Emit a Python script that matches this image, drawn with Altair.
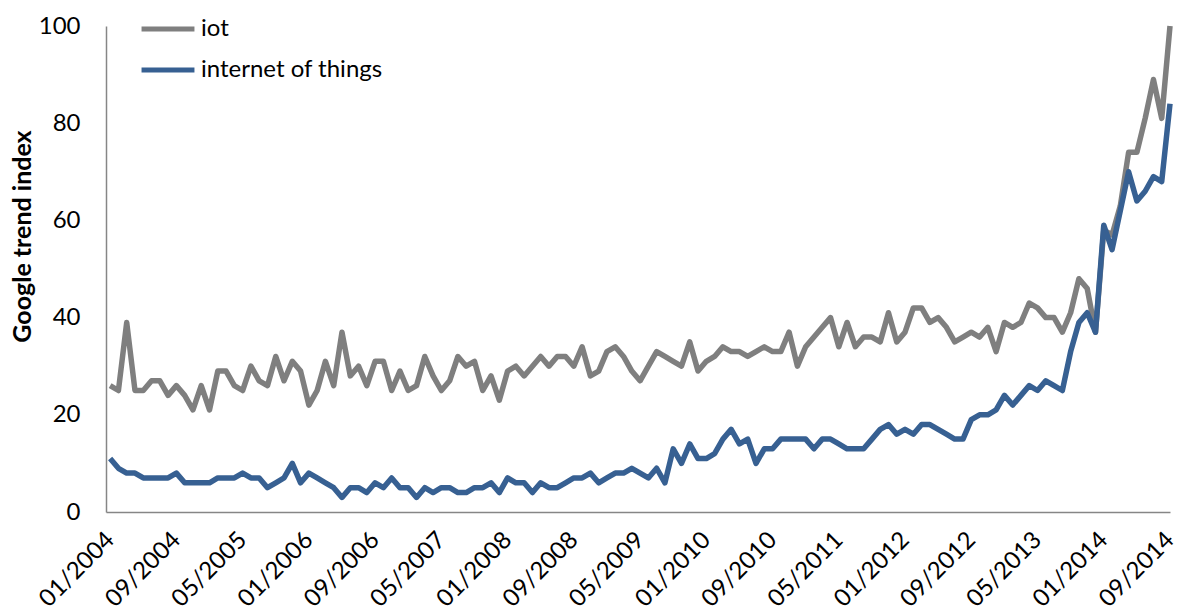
import altair as alt
import pandas as pd

# Monthly Google Trends index, 01/2004 .. 09/2014 (129 months)
iot = [
    26, 25, 39, 25, 25, 27, 27, 24, 26, 24, 21, 26, 21, 29, 29, 26, 25, 30, 27, 26,
    32, 27, 31, 29, 22, 25, 31, 26, 37, 28, 30, 26, 31, 31, 25, 29, 25, 26, 32, 28,
    25, 27, 32, 30, 31, 25, 28, 23, 29, 30, 28, 30, 32, 30, 32, 32, 30, 34, 28, 29,
    33, 34, 32, 29, 27, 30, 33, 32, 31, 30, 35, 29, 31, 32, 34, 33, 33, 32, 33, 34,
    33, 33, 37, 30, 34, 36, 38, 40, 34, 39, 34, 36, 36, 35, 41, 35, 37, 42, 42, 39,
    40, 38, 35, 36, 37, 36, 38, 33, 39, 38, 39, 43, 42, 40, 40, 37, 41, 48, 46, 37,
    58, 57, 63, 74, 74, 81, 89, 81, 100,
]
internet_of_things = [
    11, 9, 8, 8, 7, 7, 7, 7, 8, 6, 6, 6, 6, 7, 7, 7, 8, 7, 7, 5,
    6, 7, 10, 6, 8, 7, 6, 5, 3, 5, 5, 4, 6, 5, 7, 5, 5, 3, 5, 4,
    5, 5, 4, 4, 5, 5, 6, 4, 7, 6, 6, 4, 6, 5, 5, 6, 7, 7, 8, 6,
    7, 8, 8, 9, 8, 7, 9, 6, 13, 10, 14, 11, 11, 12, 15, 17, 14, 15, 10, 13,
    13, 15, 15, 15, 15, 13, 15, 15, 14, 13, 13, 13, 15, 17, 18, 16, 17, 16, 18, 18,
    17, 16, 15, 15, 19, 20, 20, 21, 24, 22, 24, 26, 25, 27, 26, 25, 33, 39, 41, 37,
    59, 54, 62, 70, 64, 66, 69, 68, 84,
]

series_names = ["iot", "internet of things"]
series_colors = ["#7f7f7f", "#376092"]

# x-axis labels, one every 8 months
tick_labels = [
    "01/2004", "09/2004", "05/2005", "01/2006", "09/2006", "05/2007",
    "01/2008", "09/2008", "05/2009", "01/2010", "09/2010", "05/2011",
    "01/2012", "09/2012", "05/2013", "01/2014", "09/2014",
]
tick_step = 8

frames = []
for name, values in zip(series_names, [iot, internet_of_things]):
    frames.append(pd.DataFrame({"month": range(len(values)), "index": values, "series": name}))
df = pd.concat(frames, ignore_index=True)

FONT = "Lato"
label_expr = "[" + ",".join(f"'{t}'" for t in tick_labels) + f"][round(datum.value / {tick_step})]"

x_enc = alt.X(
    "month:Q",
    scale=alt.Scale(domain=[-0.5, len(iot) - 1], nice=False, zero=False),
    axis=alt.Axis(
        values=list(range(0, len(iot), tick_step)),
        labelExpr=label_expr,
        labelAngle=-45,
        labelAlign="right",
        labelBaseline="middle",
        labelPadding=24,
        labelOffset=0,
        labelFontSize=24,
        labelFont=FONT,
        labelColor="#000000",
        labelOverlap=False,
        ticks=False,
        tickSize=0,
        grid=False,
        domainColor="#868686",
        domainWidth=1.5,
        title=None,
    ),
)
y_enc = alt.Y(
    "index:Q",
    scale=alt.Scale(domain=[0, 100], nice=False),
    axis=alt.Axis(
        values=[0, 20, 40, 60, 80, 100],
        labelFontSize=24,
        labelFont=FONT,
        labelColor="#000000",
        labelPadding=26,
        ticks=False,
        tickSize=0,
        grid=False,
        domainColor="#868686",
        domainWidth=1.5,
        title="Google trend index",
        titleFont=FONT,
        titleFontSize=25,
        titleFontWeight="bold",
        titleColor="#000000",
        titleAngle=-90,
        titleAlign="center",
        titleBaseline="middle",
        titleX=-84,
        titleY=210,
    ),
)
color_enc = alt.Color(
    "series:N",
    scale=alt.Scale(domain=series_names, range=series_colors),
    legend=alt.Legend(
        title=None,
        orient="none",
        legendX=33,
        legendY=-26,
        padding=0,
        symbolType="stroke",
        symbolSize=2800,
        symbolStrokeWidth=5,
        rowPadding=-12,
        labelOffset=4,
        labelFontSize=24,
        labelFont=FONT,
        labelColor="#000000",
        labelLimit=400,
    ),
)

layers = []
for name in series_names:
    layers.append(
        alt.Chart(df)
        .transform_filter(alt.datum.series == name)
        .mark_line(strokeWidth=5.5, strokeJoin="round")
        .encode(x=x_enc, y=y_enc, color=color_enc)
    )

chart = (
    alt.layer(*layers)
    .properties(
        width=1064,
        height=486,
        autosize=alt.AutoSizeParams(type="none"),
        padding={"left": 106, "top": 26, "right": 9, "bottom": 100},
        background="#ffffff",
    )
    .configure_view(stroke=None)
)

chart.save("out.html", embed_options={"renderer": "svg", "actions": False})
